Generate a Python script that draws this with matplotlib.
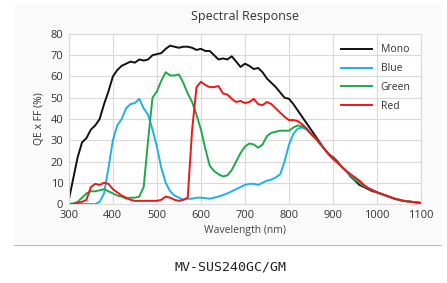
import matplotlib.pyplot as plt
from matplotlib.patches import Rectangle

# wavelength grid (nm) and read-off QE x FF values (%)
wl = [300, 310, 320, 330, 340, 350, 360, 370, 380, 390, 400, 410, 420, 430, 440, 450,
      460, 470, 480, 490, 500, 510, 520, 530, 540, 550, 560, 570, 580, 590, 600, 610,
      620, 630, 640, 650, 660, 670, 680, 690, 700, 710, 720, 730, 740, 750, 760, 770,
      780, 790, 800, 810, 820, 830, 840, 850, 860, 870, 880, 890, 900, 910, 920, 930,
      940, 950, 960, 970, 980, 990, 1000, 1020, 1040, 1060, 1080, 1100]

mono = [2, 12, 22, 29, 31, 35, 37, 40, 47, 53, 60, 63, 65, 66, 67, 66.5,
        68, 67.5, 68, 70, 70.5, 71, 73, 74.5, 74, 73.5, 74, 74, 73.5, 72.5, 73, 72,
        72, 70, 68, 68.5, 68, 69.5, 67, 64.5, 66, 65, 63.5, 64, 62, 59, 57, 55,
        52.5, 50, 49.5, 47, 44, 41, 38, 35, 32, 29, 26, 23.5, 22, 20, 17.5, 15.5,
        13, 11, 9, 8, 7, 6, 5.5, 4, 2.5, 1.5, 1, 0.5]

blue = [0, 0, 0, 0, 0, 0, 0, 1, 5, 17, 30, 37, 40, 45, 47, 47.5,
        49.5, 45, 42, 35, 27, 17, 10, 6, 4, 3, 2, 2.5, 2.5, 3, 3, 2.8,
        2.5, 3, 3.5, 4.2, 5, 6, 7, 8, 9, 9.5, 9.5, 9, 10, 11, 11.5, 12.5,
        14, 20, 28, 33, 35.5, 36, 35, 33, 31, 28.5, 26, 23.5, 21, 19.5, 17.5, 15.5,
        13.5, 11.5, 10, 8.5, 7.5, 6.5, 5.5, 4, 2.5, 1.5, 1, 0.5]

green = [0, 0.3, 1, 3, 5, 6, 6, 6.5, 7, 6, 5, 4, 3.5, 2.5, 3, 3,
         3.5, 8, 30, 50, 53, 58, 62, 60.5, 60.5, 61, 57, 52, 48, 42, 35, 26,
         18, 15.5, 14, 13, 13.5, 16, 20, 24, 27, 28.5, 28, 26.5, 28, 32, 33.5, 34,
         34.5, 34.5, 34.5, 36, 37, 36.5, 35.5, 33, 31, 28.5, 26, 23.5, 21.5, 19.5, 17.5, 15.5,
         13.5, 11.5, 10, 8.5, 7.5, 6.5, 5.5, 4, 2.5, 1.5, 1, 0.5]

red = [0, 0, 0.5, 1, 2, 8, 9.5, 9, 10, 9.5, 7, 5.5, 4, 3, 2, 1.5,
       1.5, 1.5, 1.5, 1.5, 1.5, 2, 3.5, 3, 2, 1.5, 2, 3, 35, 55, 57.5, 56,
       55, 55, 55.5, 52, 51.5, 49.5, 48, 48.5, 47.5, 48, 49.5, 47, 46.5, 48, 47, 45,
       43, 41, 39.5, 39.5, 39, 37.5, 35.5, 33, 31, 28.5, 26, 23.5, 21.5, 19.5, 17.5, 15.5,
       14, 12.5, 11, 9, 7.5, 6.5, 5.5, 4, 2.5, 1.5, 1, 0.5]

series = [("Mono", mono, "#111111"), ("Blue", blue, "#1fb0ea"),
          ("Green", green, "#1fa84a"), ("Red", red, "#f01616")]

fig = plt.figure(figsize=(4.47, 2.83), dpi=100)
fig.patch.set_facecolor("white")
fig.patches.append(Rectangle((0.031, 0.134), 0.955, 0.853, transform=fig.transFigure,
                             facecolor="#fafafa", edgecolor="none", zorder=-5))
fig.lines.append(plt.Line2D([0.031, 0.986], [0.134, 0.134], transform=fig.transFigure,
                            color="#bbbbbb", lw=0.8, zorder=-5))

ax = fig.add_axes([0.154, 0.279, 0.788, 0.601])
ax.set_zorder(2)
ax.set_facecolor("white")
for name, vals, col in series:
    ax.plot(wl, vals, color=col, lw=1.4, label=name, solid_joinstyle="round")

ax.set_xlim(300, 1100)
ax.set_ylim(0, 80)
ax.set_xticks(range(300, 1101, 100))
ax.set_yticks(range(0, 81, 10))
ax.grid(True, color="#d9d9d9", lw=0.8)
ax.set_axisbelow(True)
for s in ax.spines.values():
    s.set_color("#d9d9d9")
    s.set_linewidth(0.8)
ax.tick_params(length=0, labelsize=8, colors="#333333", pad=4)
for lab in ax.get_xticklabels() + ax.get_yticklabels():
    lab.set_family("Open Sans")

ax.set_title("Spectral Response", fontsize=9, family="Open Sans", color="#333333", pad=10)
ax.set_xlabel("Wavelength (nm)", fontsize=7.5, family="Open Sans", color="#444444", labelpad=3)
ax.set_ylabel("QE x FF (%)", fontsize=7.5, family="Open Sans", color="#333333", labelpad=4)

leg = ax.legend(loc="upper right", frameon=False, handlelength=3.0,
                labelspacing=0.75, borderaxespad=0.6, prop={"family": "Open Sans", "size": 7.5})
for t in leg.get_texts():
    t.set_color("#333333")

fig.text(0.515, 0.032, "MV-SUS240GC/GM", ha="center", va="bottom",
         family="DejaVu Sans Mono", fontsize=9.5, color="#222222")

fig.savefig("out.png", dpi=100)
